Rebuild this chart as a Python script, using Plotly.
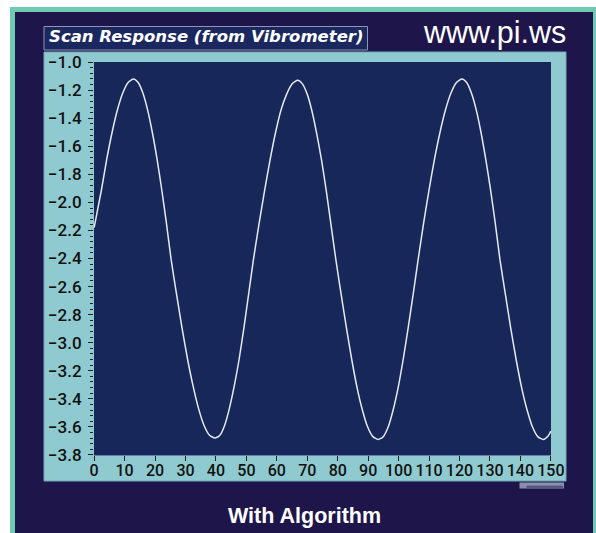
import plotly.graph_objects as go

# ---- data ----
scan_x = [0, 2.4, 4.15, 5.9, 7.65, 9.4, 11.15, 12.9,
          14.45, 16.0, 17.55, 19.1, 20.65, 22.2, 23.75, 25.3,
          27.1, 28.9, 30.7, 32.5, 34.3, 36.1, 37.9, 39.7,
          41.3, 42.85, 44.4, 46.0, 47.6, 49.15, 50.7, 52.3,
          54.1, 55.95, 57.75, 59.6, 61.4, 63.2, 65.05, 66.85,
          68.4, 70.0, 71.55, 73.1, 74.7, 76.25, 77.8, 79.4,
          81.15, 82.9, 84.6, 86.35, 88.1, 89.8, 91.55, 93.3,
          94.95, 96.6, 98.2, 99.85, 101.5, 103.1, 104.75, 106.4,
          108.2, 110.0, 111.8, 113.6, 115.4, 117.2, 119.0, 120.8,
          122.35, 123.9, 125.5, 127.05, 128.6, 130.2, 131.75, 133.3,
          135.1, 136.85, 138.6, 140.4, 142.2, 143.95, 145.7, 147.5,
          149.1, 150]
scan_y = [-2.18, -1.91, -1.69, -1.50, -1.34, -1.22, -1.145, -1.12,
          -1.145, -1.22, -1.34, -1.50, -1.69, -1.91, -2.15, -2.41,
          -2.66, -2.90, -3.12, -3.31, -3.47, -3.59, -3.66, -3.68,
          -3.66, -3.59, -3.47, -3.31, -3.12, -2.90, -2.66, -2.41,
          -2.16, -1.92, -1.70, -1.50, -1.34, -1.23, -1.155, -1.13,
          -1.155, -1.23, -1.35, -1.51, -1.70, -1.92, -2.16, -2.41,
          -2.66, -2.90, -3.12, -3.32, -3.48, -3.60, -3.67, -3.69,
          -3.67, -3.60, -3.48, -3.32, -3.12, -2.90, -2.66, -2.41,
          -2.15, -1.91, -1.69, -1.50, -1.34, -1.22, -1.145, -1.12,
          -1.145, -1.22, -1.34, -1.50, -1.69, -1.91, -2.15, -2.41,
          -2.66, -2.90, -3.12, -3.32, -3.48, -3.60, -3.67, -3.69,
          -3.665, -3.63]

x_tick_step = 10
y_tick_step = 0.2
y_minor_step = 0.04
x_range = [0, 150]
y_range = [-3.8, -1.0]

title_text = "Scan Response (from Vibrometer)"
site_text = "www.pi.ws"
caption_text = "With Algorithm"

# ---- layout geometry (pixels) ----
W, H = 596, 533
L, R, T, B = 94, 551, 62, 455


def px(x):
    return (x - L) / (R - L)


def py(y):
    return (B - y) / (B - T)


def rect(x0, y0, x1, y1, fill, line_color=None, line_width=0):
    return dict(type="rect", xref="paper", yref="paper", layer="below",
                x0=px(x0), x1=px(x1), y0=py(y1), y1=py(y0),
                fillcolor=fill,
                line=dict(color=line_color or fill, width=line_width))


shapes = [
    rect(10, 7, 600, 540, "#6ecbb2"),                 # outer mint frame
    rect(15, 12, 593, 540, "#1e164b"),                # outer navy background
    rect(44, 52, 566, 481, "#8ecacf", "#6fa9b2", 1),  # light teal panel
    rect(L, T, R, B, "#17275a"),                      # plot area
    rect(44, 26.5, 367.5, 50, "#1b285f", "#8e96b4", 1),  # title box
    rect(519.5, 482.5, 564, 488.5, "#8b8dad"),        # small slider
    rect(526.5, 485.8, 563, 487.8, "#4a4f7a"),
]

fig = go.Figure()
fig.add_trace(go.Scatter(
    x=scan_x, y=scan_y, mode="lines",
    line=dict(color="#e8e8f2", width=1.5, shape="spline", smoothing=0.6),
    hoverinfo="skip", showlegend=False,
))

x_tick_font = dict(family="Roboto, Liberation Sans, Arial, sans-serif", size=16,
                   color="#111111", weight=500)
y_tick_font = dict(family="Roboto, Liberation Sans, Arial, sans-serif", size=17,
                   color="#111111", weight=500)

fig.update_layout(
    width=W, height=H, autosize=False,
    margin=dict(l=L, r=W - R, t=T, b=H - B, pad=0),
    paper_bgcolor="#ffffff",
    plot_bgcolor="#17275a",
    shapes=shapes,
    showlegend=False,
    xaxis=dict(
        range=[x_range[0] - 0.05, x_range[1] + 0.05], dtick=x_tick_step, tick0=0,
        ticks="outside", ticklen=5, tickwidth=1, tickcolor="#222222",
        tickfont=x_tick_font, ticklabelstandoff=-4, tickangle=0,
        showgrid=False, zeroline=False,
        showline=True, linecolor="#6e7ca6", linewidth=1, fixedrange=True,
    ),
    yaxis=dict(
        range=[y_range[0] - 0.0008, y_range[1] + 0.0008], dtick=y_tick_step, tick0=0,
        tickformat=".1f",
        ticks="outside", ticklen=5, tickwidth=1, tickcolor="#222222",
        tickfont=y_tick_font, ticklabelstandoff=3,
        showgrid=False, zeroline=False, showline=False,
        minor=dict(dtick=y_minor_step, tick0=0, ticks="outside", ticklen=3,
                   tickcolor="#222222", tickwidth=1, showgrid=False),
        fixedrange=True,
    ),
    annotations=[
        dict(text="<b><i>" + title_text + "</i></b>", xref="paper", yref="paper",
             x=px(47), y=py(37), xanchor="left", yanchor="middle", showarrow=False,
             font=dict(family="DejaVu Sans, sans-serif", size=16.5, color="#ffffff")),
        dict(text=site_text, xref="paper", yref="paper",
             x=px(494), y=py(32.6), xanchor="center", yanchor="middle", showarrow=False,
             font=dict(family="Liberation Sans, Arial, sans-serif", size=30.5, color="#ffffff")),
        dict(text="<b>" + caption_text + "</b>", xref="paper", yref="paper",
             x=px(304.7), y=py(515.8), xanchor="center", yanchor="middle", showarrow=False,
             font=dict(family="Liberation Sans, Arial, sans-serif", size=21.5, color="#ffffff")),
    ],
)

fig.write_html("out.html", config={"displayModeBar": False})
